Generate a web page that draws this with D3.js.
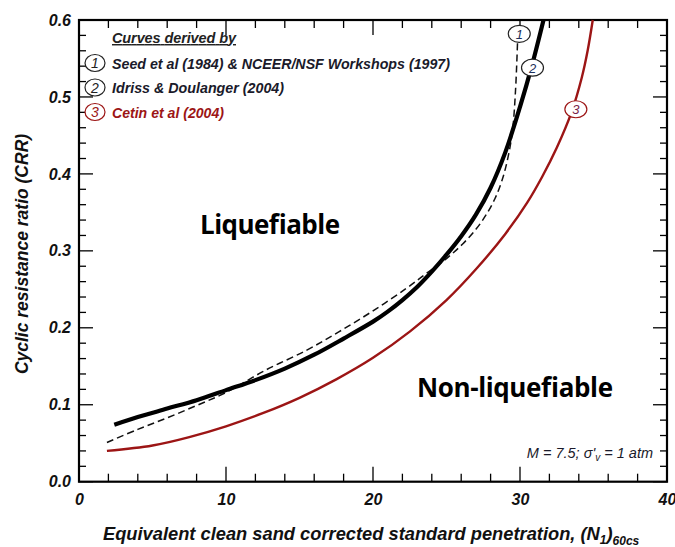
<!DOCTYPE html>
<html><head><meta charset="utf-8">
<script src="https://cdn.jsdelivr.net/npm/d3@7"></script>
<style>body{margin:0;background:#fff}svg{display:block}</style>
</head><body>
<script>
// ---- data ----
const seedN   = [1.9, 4, 6, 8, 10, 12.7, 15.5, 17.7, 20, 22.25, 23.65, 25.0, 26.1, 27.0, 27.7, 28.3, 28.8, 29.2, 29.5, 29.7, 29.83];
const seedCRR = [0.051, 0.068, 0.083, 0.099, 0.116, 0.145, 0.171, 0.195, 0.222, 0.251, 0.271, 0.290, 0.309, 0.328, 0.347, 0.368, 0.393, 0.423, 0.458, 0.510, 0.570];
const ibN     = [2.4, 4, 6, 8, 10, 12, 14, 16, 18, 20, 21, 22, 23, 24, 25, 26, 27, 28, 29, 30, 30.8, 31.6];
const ibCRR   = [0.074, 0.084, 0.095, 0.106, 0.119, 0.132, 0.147, 0.165, 0.186, 0.208, 0.221, 0.236, 0.253, 0.273, 0.295, 0.319, 0.347, 0.382, 0.428, 0.487, 0.540, 0.600];
const cetinN  = [1.9, 5, 7.5, 10, 12.5, 15, 17.5, 20, 22.5, 25, 27, 29, 30.5, 31.5, 32.5, 33.5, 34.2, 34.6, 34.95];
const cetinCRR= [0.040, 0.047, 0.058, 0.072, 0.089, 0.109, 0.133, 0.161, 0.195, 0.236, 0.276, 0.322, 0.363, 0.396, 0.434, 0.480, 0.525, 0.560, 0.600];
const xTicks = [0, 10, 20, 30, 40];
const yTicks = [0.0, 0.1, 0.2, 0.3, 0.4, 0.5, 0.6];
const legendItems = ["Seed et al (1984) & NCEER/NSF Workshops (1997)", "Idriss & Doulanger (2004)", "Cetin et al (2004)"];
const curveLabels = [{id:"1", n:29.95, crr:0.582}, {id:"2", n:30.85, crr:0.538}, {id:"3", n:33.8, crr:0.484}];

const W = 675, H = 547;
const L = 79, R = 667, T = 20, B = 481.7;
const svg = d3.select("body").append("svg").attr("width", W).attr("height", H);
const x = d3.scaleLinear().domain([0, 40]).range([L, R]);
const y = d3.scaleLinear().domain([0, 0.6]).range([B, T]);
const font = "Liberation Sans, Arial, sans-serif";
const red = "#9c1515";

// ticks (inward on all sides)
const xMinor = d3.range(0, 40.01, 2), yMinor = d3.range(0, 0.6001, 0.02);
const ax = svg.append("g").attr("stroke", "#000").attr("stroke-width", 1.3);
xMinor.forEach(v => {
  const major = Math.abs(v % 10) < 1e-6;
  const len = major ? 15 : 8;
  ax.append("line").attr("x1", x(v)).attr("x2", x(v)).attr("y1", B).attr("y2", B - len);
  ax.append("line").attr("x1", x(v)).attr("x2", x(v)).attr("y1", T).attr("y2", T + len);
});
yMinor.forEach(v => {
  const major = Math.abs(Math.round(v * 100) % 10) < 1e-6;
  const len = major ? 14 : 7;
  ax.append("line").attr("x1", L).attr("x2", L + len).attr("y1", y(v)).attr("y2", y(v));
  ax.append("line").attr("x1", R).attr("x2", R - len).attr("y1", y(v)).attr("y2", y(v));
});
svg.append("rect").attr("x", L).attr("y", T).attr("width", R - L).attr("height", B - T)
  .attr("fill", "none").attr("stroke", "#000").attr("stroke-width", 2.2);

// axes via d3 for labels
svg.append("g").attr("transform", `translate(0,${B})`)
  .call(d3.axisBottom(x).tickValues(xTicks).tickSize(0).tickPadding(12).tickFormat(d3.format("d")))
  .call(g => g.select(".domain").remove())
  .selectAll("text").attr("font-family", font).attr("font-size", 16).attr("font-weight", "bold")
  .attr("font-style", "italic").attr("fill", "#111");
svg.append("g").attr("transform", `translate(${L},0)`)
  .call(d3.axisLeft(y).tickValues(yTicks).tickSize(0).tickPadding(8).tickFormat(d3.format(".1f")))
  .call(g => g.select(".domain").remove())
  .selectAll("text").attr("font-family", font).attr("font-size", 16).attr("font-weight", "bold")
  .attr("font-style", "italic").attr("fill", "#111");

// axis titles
svg.append("text").attr("transform", "translate(28,254) rotate(-90)").attr("text-anchor", "middle")
  .attr("font-family", font).attr("font-size", 17.5).attr("font-weight", "bold").attr("font-style", "italic")
  .attr("fill", "#111").text("Cyclic resistance ratio (CRR)");
const xt = svg.append("text").attr("x", 103).attr("y", 540)
  .attr("font-family", font).attr("font-size", 18.3).attr("font-weight", "bold").attr("font-style", "italic").attr("fill", "#111");
xt.append("tspan").text("Equivalent clean sand corrected standard penetration, (N");
xt.append("tspan").attr("font-size", 12).attr("dy", 4).text("1");
xt.append("tspan").attr("dy", -4).text(")");
xt.append("tspan").attr("font-size", 12).attr("dy", 5).text("60cs");

// curves
const line = d3.line().x(d => x(d[0])).y(d => y(d[1])).curve(d3.curveCatmullRom);
svg.append("path").datum(d3.zip(cetinN, cetinCRR)).attr("d", line)
  .attr("fill", "none").attr("stroke", red).attr("stroke-width", 2.4);
svg.append("path").datum(d3.zip(seedN, seedCRR)).attr("d", line)
  .attr("fill", "none").attr("stroke", "#111").attr("stroke-width", 1.5).attr("stroke-dasharray", "7,4");
svg.append("path").datum(d3.zip(ibN, ibCRR)).attr("d", line)
  .attr("fill", "none").attr("stroke", "#000").attr("stroke-width", 4.2);

// curve labels
curveLabels.forEach((c, i) => {
  const col = i === 2 ? red : "#222";
  svg.append("ellipse").attr("cx", x(c.n)).attr("cy", y(c.crr)).attr("rx", 11).attr("ry", 8.5)
    .attr("fill", "#fff").attr("stroke", col).attr("stroke-width", 1.2);
  svg.append("text").attr("x", x(c.n)).attr("y", y(c.crr) + 5).attr("text-anchor", "middle")
    .attr("font-family", font).attr("font-size", 13).attr("font-style", "italic")
    .attr("fill", i === 2 ? "#7a1f4a" : "#1c2f5a").text(c.id);
});

// legend
svg.append("text").attr("x", 112).attr("y", 43).attr("font-family", font).attr("font-size", 14.5)
  .attr("font-style", "italic").attr("font-weight", "bold").attr("fill", "#222")
  .attr("text-decoration", "underline").attr("textLength", 124).text("Curves derived by");
const legW = [338, 172, 112];
legendItems.forEach((t, i) => {
  const cy = 63 + i * 24.5;
  const col = i === 2 ? red : "#222";
  svg.append("ellipse").attr("cx", 95).attr("cy", cy).attr("rx", 10).attr("ry", 8.5)
    .attr("fill", "#fff").attr("stroke", col).attr("stroke-width", 1.2);
  svg.append("text").attr("x", 95).attr("y", cy + 5).attr("text-anchor", "middle")
    .attr("font-family", font).attr("font-size", 14).attr("font-style", "italic").attr("fill", col).text(i + 1);
  svg.append("text").attr("x", 112).attr("y", cy + 5.5).attr("font-family", font).attr("font-size", 15)
    .attr("font-style", "italic").attr("font-weight", "bold").attr("fill", i === 2 ? red : "#1a1a2a")
    .attr("textLength", legW[i]).attr("lengthAdjust", "spacingAndGlyphs").text(t);
});

// region labels
const big = "Open Sans, Lato, sans-serif";
svg.append("text").attr("x", 200).attr("y", 234).attr("font-family", big).attr("font-size", 26)
  .attr("font-weight", "bold").attr("fill", "#000").attr("textLength", 140).text("Liquefiable");
svg.append("text").attr("x", 417).attr("y", 397).attr("font-family", big).attr("font-size", 26)
  .attr("font-weight", "bold").attr("fill", "#000").attr("textLength", 196).text("Non-liquefiable");

// conditions
const mt = svg.append("text").attr("x", 653).attr("y", 458).attr("text-anchor", "end")
  .attr("font-family", font).attr("font-size", 14.5).attr("font-style", "italic").attr("fill", "#1a1a2a");
mt.append("tspan").text("M = 7.5; σ'");
mt.append("tspan").attr("font-size", 10).attr("dy", 3).text("v");
mt.append("tspan").attr("dy", -3).text(" = 1 atm");
</script>
</body></html>
